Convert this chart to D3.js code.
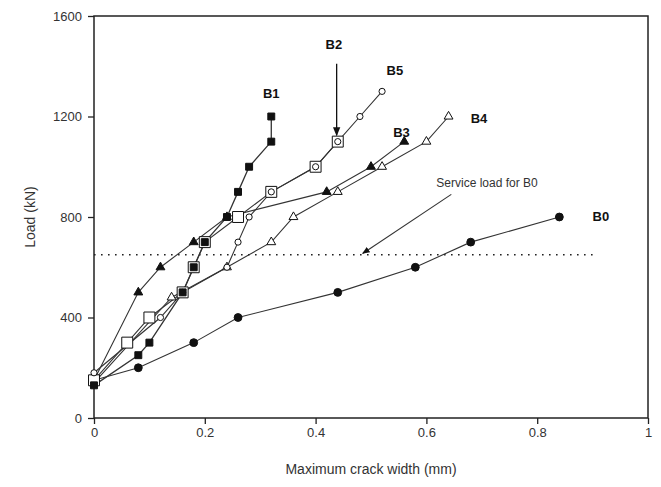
<!DOCTYPE html>
<html>
<head>
<meta charset="utf-8">
<script src="https://cdn.jsdelivr.net/npm/d3@7"></script>
<style>
body { margin: 0; background: #fff; }
text { font-family: "Liberation Sans", Arial, sans-serif; }
</style>
</head>
<body>
<svg id="chart" width="661" height="487"></svg>
<script>
// values (crack width mm, load kN)
var xTicks = [0, 0.2, 0.4, 0.6, 0.8, 1];
var yTicks = [0, 400, 800, 1200, 1600];
var serviceLoad = 650;

var B0 = [[0, 150], [0.08, 200], [0.18, 300], [0.26, 400], [0.44, 500], [0.58, 600], [0.68, 700], [0.84, 800]];
var B1 = [[0, 130], [0.08, 250], [0.1, 300], [0.16, 500], [0.18, 600], [0.2, 700], [0.24, 800], [0.26, 900], [0.28, 1000], [0.32, 1100], [0.32, 1200]];
var B2 = [[0, 150], [0.06, 300], [0.1, 400], [0.16, 500], [0.18, 600], [0.2, 700], [0.26, 800], [0.32, 900], [0.4, 1000], [0.44, 1100]];
var B3 = [[0, 150], [0.08, 500], [0.12, 600], [0.18, 700], [0.24, 800], [0.42, 900], [0.5, 1000], [0.56, 1100]];
var B4 = [[0, 140], [0.14, 480], [0.24, 600], [0.32, 700], [0.36, 800], [0.44, 900], [0.52, 1000], [0.6, 1100], [0.64, 1200]];
var B5 = [[0, 180], [0.12, 400], [0.16, 500], [0.24, 600], [0.26, 700], [0.28, 800], [0.32, 900], [0.4, 1000], [0.44, 1100], [0.48, 1200], [0.52, 1300]];

var seriesNames = ["B0", "B4", "B3", "B5", "B2", "B1"];
var seriesData = { B0: B0, B1: B1, B2: B2, B3: B3, B4: B4, B5: B5 };
// label anchor points (data coords)
var labelPos = { B0: [0.9, 785], B1: [0.305, 1275], B2: [0.418, 1470], B3: [0.54, 1120], B4: [0.68, 1175], B5: [0.528, 1365] };

var marginLeft = 94, marginTop = 16, plotW = 554, plotH = 402;

var svg = d3.select('#chart');
var x = d3.scaleLinear().domain([0, 1]).range([marginLeft, marginLeft + plotW]);
var y = d3.scaleLinear().domain([0, 1600]).range([marginTop + plotH, marginTop]);

// frame
svg.append('rect')
    .attr('x', marginLeft).attr('y', marginTop)
    .attr('width', plotW).attr('height', plotH)
    .attr('fill', 'none').attr('stroke', '#222').attr('stroke-width', 1.5);

var gx = svg.append('g')
    .attr('transform', 'translate(0,' + (marginTop + plotH) + ')')
    .call(d3.axisBottom(x).tickValues(xTicks).tickSize(6).tickPadding(4).tickFormat(d3.format('')));
var gy = svg.append('g')
    .attr('transform', 'translate(' + marginLeft + ',0)')
    .call(d3.axisLeft(y).tickValues(yTicks).tickSize(6).tickPadding(6).tickFormat(d3.format('')));
[gx, gy].forEach(function (g) {
    g.select('.domain').remove();
    g.selectAll('line').attr('stroke', '#222').attr('stroke-width', 1.3);
    g.selectAll('text').attr('font-size', 13).attr('fill', '#333');
});

svg.append('text')
    .attr('x', x(0.5)).attr('y', 474)
    .attr('text-anchor', 'middle').attr('font-size', 14).attr('fill', '#333')
    .text('Maximum crack width (mm)');
svg.append('text')
    .attr('transform', 'translate(35,' + y(800) + ') rotate(-90)')
    .attr('text-anchor', 'middle').attr('font-size', 14).attr('fill', '#333')
    .text('Load (kN)');

// service load line
svg.append('line')
    .attr('x1', x(0)).attr('x2', x(0.9))
    .attr('y1', y(serviceLoad)).attr('y2', y(serviceLoad))
    .attr('stroke', '#222').attr('stroke-width', 1.6)
    .attr('stroke-dasharray', '1.6,5.4');

var line = d3.line().x(d => x(d[0])).y(d => y(d[1]));

seriesNames.forEach(function (name) {
    svg.append('path')
        .datum(seriesData[name])
        .attr('d', line)
        .attr('fill', 'none')
        .attr('stroke', '#333')
        .attr('stroke-width', name === 'B1' ? 1.3 : 1.1);
});

function drawMarkers(name, type, size, filled) {
    svg.selectAll('.m' + name)
        .data(seriesData[name])
        .enter()
        .append('path')
        .attr('class', 'm' + name)
        .attr('transform', d => 'translate(' + x(d[0]) + ',' + y(d[1]) + ')')
        .attr('d', d3.symbol().type(type).size(size))
        .attr('fill', filled ? '#111' : '#fff')
        .attr('stroke', '#111')
        .attr('stroke-width', 1);
}

drawMarkers('B0', d3.symbolCircle, 48, true);
drawMarkers('B4', d3.symbolTriangle, 34, false);
drawMarkers('B3', d3.symbolTriangle, 34, true);
drawMarkers('B2', d3.symbolSquare, 120, false);
drawMarkers('B5', d3.symbolCircle, 30, false);
drawMarkers('B1', d3.symbolSquare, 48, true);

seriesNames.forEach(function (name) {
    svg.append('text')
        .attr('x', x(labelPos[name][0])).attr('y', y(labelPos[name][1]))
        .attr('font-size', 13).attr('font-weight', 'bold').attr('fill', '#111')
        .text(name);
});

// arrows
svg.append('defs').append('marker')
    .attr('id', 'ah').attr('viewBox', '0 0 10 10')
    .attr('refX', 9).attr('refY', 5)
    .attr('markerWidth', 7).attr('markerHeight', 7)
    .attr('orient', 'auto')
    .append('path').attr('d', 'M0,1 L10,5 L0,9 Z').attr('fill', '#111');

svg.append('line')
    .attr('x1', x(0.438)).attr('y1', y(1410))
    .attr('x2', x(0.438)).attr('y2', y(1125))
    .attr('stroke', '#111').attr('stroke-width', 1.3)
    .attr('marker-end', 'url(#ah)');

svg.append('line')
    .attr('x1', x(0.645)).attr('y1', y(890))
    .attr('x2', x(0.485)).attr('y2', y(655))
    .attr('stroke', '#333').attr('stroke-width', 1.1)
    .attr('marker-end', 'url(#ah)');

svg.append('text')
    .attr('x', x(0.618)).attr('y', y(920))
    .attr('font-size', 12).attr('fill', '#333')
    .text('Service load for B0');
</script>
</body>
</html>
